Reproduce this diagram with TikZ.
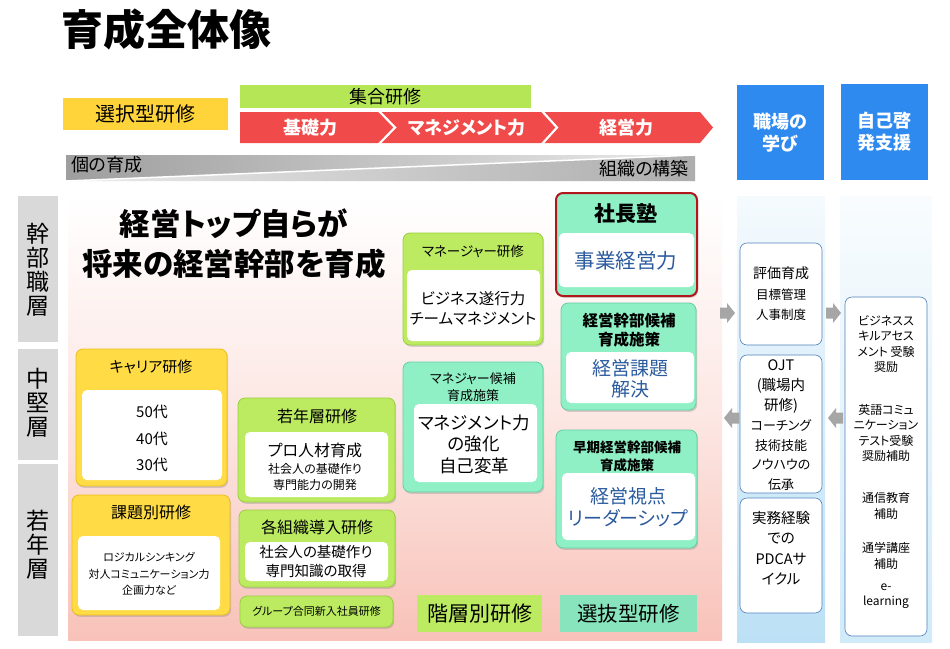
\documentclass[tikz,border=0pt]{standalone}
\usepackage{fontspec}
\setmainfont[RawFeature=+palt]{Noto Sans CJK JP}
\usetikzlibrary{shadows,fit}
\definecolor{selyellow}{HTML}{FFD43B}
\definecolor{barGreen}{HTML}{B5E655}
\definecolor{barRed}{HTML}{F04A4A}
\definecolor{hdrBlue}{HTML}{2F8AF0}
\definecolor{lblGray}{HTML}{D9D9D9}
\definecolor{pinkbg}{HTML}{F8C2B9}
\definecolor{yfill}{HTML}{FFDC45}
\definecolor{ybord}{HTML}{E9BE1E}
\definecolor{gfill}{HTML}{BCEB62}
\definecolor{gbord}{HTML}{98CF3C}
\definecolor{mfill}{HTML}{8FF0C6}
\definecolor{mbord}{HTML}{62CFA2}
\definecolor{redbord}{HTML}{B0161B}
\definecolor{txtBlue}{HTML}{2B5B9E}
\definecolor{boxBlue}{HTML}{4F81BD}
\definecolor{arrowGray}{HTML}{A6A6A6}
\definecolor{colA}{HTML}{BCE0F5}
\definecolor{colB}{HTML}{D2EBF9}
\newcommand\fsz[2]{\fontsize{#1}{#2}\selectfont}
\begin{document}
\begin{tikzpicture}[x=1pt,y=-1pt,
  shp/.style={inner sep=0pt, outer sep=0pt},
  sh/.style={drop shadow={opacity=0.3,shadow xshift=1.2pt,shadow yshift=-1.8pt}},
  ybox/.style={shp,sh,draw=ybord,fill=yfill,line width=0.8pt,rounded corners=7pt},
  gbox/.style={shp,sh,draw=gbord,fill=gfill,line width=0.8pt,rounded corners=7pt},
  mbox/.style={shp,sh,draw=mbord,fill=mfill,line width=0.8pt,rounded corners=7pt},
  wbox/.style={shp,fill=white,rounded corners=5pt},
  bbox/.style={shp,fill=white,draw=boxBlue,line width=0.6pt,rounded corners=7pt},
  txt/.style={inner sep=0pt, align=center},
  garrow/.style={fill=arrowGray}
]
\useasboundingbox (0,0) rectangle (950,648);
\fill[white] (0,0) rectangle (950,648);

% title
\node[txt,anchor=west,font=\bfseries\fsz{42}{46}] (title) at (61,29) {育成全体像};

% top bars
\node[shp,fill=selyellow,fit={(63,98)(228,130)}] (sel) {};
\node[txt,font=\fsz{20}{24}] (selt) at (sel) {選択型研修};
\node[shp,fill=barGreen,fit={(240,85)(531,108)}] (shugo) {};
\node[txt,font=\fsz{18}{22}] (shugot) at (shugo) {集合研修};
\fill[barRed] (240,112) -- (700,112) -- (713,127.5) -- (700,143) -- (240,143) -- cycle;
\draw[white,line width=2.2pt] (379,111) -- (395,127.5) -- (379,144);
\draw[white,line width=2.2pt] (542,111) -- (557,127.5) -- (542,144);
\node[txt,font=\bfseries\fsz{18}{22},text=white] (r1) at (310,127.5) {基礎力};
\node[txt,font=\bfseries\fsz{18}{22},text=white] (r2) at (467,127.5) {マネジメント力};
\node[txt,font=\bfseries\fsz{18}{22},text=white] (r3) at (626,127.5) {経営力};

% gray wedges
\shade[left color=black!38,right color=black!8] (66,155) -- (695,155) -- (66,181) -- cycle;
\shade[left color=black!8,right color=black!32] (695,155) -- (695,181) -- (66,181) -- cycle;
\draw[white,line width=1.5pt] (66,181) -- (695,155);
\node[txt,anchor=west,font=\fsz{18}{22}] (kono) at (71,165) {個の育成};
\node[txt,anchor=east,font=\fsz{18}{22}] (soshiki) at (689,169) {組織の構築};

% blue headers
\node[shp,fill=hdrBlue,fit={(737,85)(824,180)}] (shokuba) {};
\node[txt,font=\bfseries\fsz{18}{22},text=white] (shokubat) at (shokuba) {職場の\\学び};
\node[shp,fill=hdrBlue,fit={(841,84)(928,180)}] (jiko) {};
\node[txt,font=\bfseries\fsz{18}{22},text=white] (jikot) at (jiko) {自己啓\\発支援};

% backgrounds
\shade[top color=white,bottom color=pinkbg,middle color=pinkbg!40] (68,196) rectangle (722,640);
\shade[top color=colA!15,bottom color=colA] (737,196) rectangle (825,642);
\shade[top color=colB!15,bottom color=colB] (840,196) rectangle (932,642);

% left level labels
\node[shp,fill=lblGray,fit={(18,196)(58,342)}] (lv1) {};
\node[txt,font=\fsz{23}{24}] (lv1t) at (38,270) {幹\\部\\職\\層};
\node[shp,fill=lblGray,fit={(18,349)(58,460)}] (lv2) {};
\node[txt,font=\fsz{23}{24}] (lv2t) at (38,403) {中\\堅\\層};
\node[shp,fill=lblGray,fit={(18,464)(58,636)}] (lv3) {};
\node[txt,font=\fsz{23}{24}] (lv3t) at (38,545) {若\\年\\層};

% heading
\node[txt,font=\bfseries\fsz{30.5}{40}] (head) at (234,244) {経営トップ自らが\\将来の経営幹部を育成};

% キャリア研修
\node[ybox,fit={(76,349)(227,486)}] (car) {};
\node[wbox,fit={(82,390)(222,480)}] (carw) {};
\node[txt,font=\fsz{15}{18}] (cart) at (151,367) {キャリア研修};
\node[txt,font=\fsz{15}{18}] (c50) at (152,412) {50代};
\node[txt,font=\fsz{15}{18}] (c40) at (152,439) {40代};
\node[txt,font=\fsz{15}{18}] (c30) at (152,465) {30代};

% 課題別研修
\node[ybox,fit={(72,495)(230,615)}] (kadai) {};
\node[wbox,fit={(78,536)(220,610)}] (kadaiw) {};
\node[txt,font=\fsz{16}{19}] (kadait) at (151,512) {課題別研修};
\node[txt,font=\fsz{11}{16.5}] (kadaib) at (149,574) {ロジカルシンキング\\対人コミュニケーション力\\企画力など};

% 若年層研修
\node[gbox,fit={(238,398)(395,502)}] (jaku) {};
\node[wbox,fit={(245,432)(388,497)}] (jakuw) {};
\node[txt,font=\fsz{16}{19}] (jakut) at (317,416) {若年層研修};
\node[txt,font=\fsz{16}{19}] (jakub1) at (315,450) {プロ人材育成};
\node[txt,font=\fsz{12}{15.5}] (jakub2) at (315,477) {社会人の基礎作り\\専門能力の開発};

% 各組織導入研修
\node[gbox,fit={(239,510)(395,587)}] (kaku) {};
\node[wbox,fit={(245,542)(388,581)}] (kakuw) {};
\node[txt,font=\fsz{16}{19}] (kakut) at (317,527) {各組織導入研修};
\node[txt,font=\fsz{14.5}{19}] (kakub) at (316,562) {社会人の基礎作り\\専門知識の取得};

% グループ合同新入社員研修
\node[gbox,fit={(240,596)(393,627)}] (grp) {};
\node[txt,font=\fsz{11}{13}] (grpt) at (grp) {グループ合同新入社員研修};

% マネージャー研修
\node[gbox,fit={(403,233)(543,345)}] (mgr) {};
\node[wbox,fit={(407,270)(540,341)}] (mgrw) {};
\node[txt,font=\fsz{13.5}{16}] (mgrt) at (473,251) {マネージャー研修};
\node[txt,font=\fsz{15.5}{20}] (mgrb) at (473,308) {ビジネス遂行力\\チームマネジメント};

% マネジャー候補育成施策
\node[mbox,fit={(403,362)(543,492)}] (mgk) {};
\node[wbox,fit={(414,404)(537,482)}] (mgkw) {};
\node[txt,font=\fsz{13}{17}] (mgkt) at (473,387) {マネジャー候補\\育成施策};
\node[txt,font=\fsz{17.5}{21.5}] (mgkb) at (474,444) {マネジメント力\\の強化\\自己変革};

% 社長塾
\node[shp,sh,draw=redbord,fill=mfill,line width=2pt,rounded corners=7pt,fit={(556,193)(697,296)}] (jukun) {};
\node[wbox,fit={(559,233)(694,287)}] (jukuw) {};
\node[txt,font=\bfseries\fsz{21}{24}] (jukut) at (626,214) {社長塾};
\node[txt,font=\fsz{20.5}{24},text=txtBlue] (jukub) at (626,261) {事業経営力};

% 経営幹部候補育成施策
\node[mbox,fit={(561,303)(696,410)}] (kkb) {};
\node[wbox,fit={(566,352)(694,403)}] (kkbw) {};
\node[txt,font=\bfseries\fsz{15.5}{19}] (kkbt) at (629,330) {経営幹部候補\\育成施策};
\node[txt,font=\fsz{19}{21},text=txtBlue] (kkbb) at (630,379) {経営課題\\解決};

% 早期経営幹部候補育成施策
\node[mbox,fit={(556,430)(697,548)}] (soki) {};
\node[wbox,fit={(562,473)(695,540)}] (sokiw) {};
\node[txt,font=\bfseries\fsz{13.5}{18}] (sokit) at (627,456) {早期経営幹部候補\\育成施策};
\node[txt,font=\fsz{19}{22},text=txtBlue] (sokib) at (628,507) {経営視点\\リーダーシップ};

% category labels
\node[shp,fill=gfill,fit={(417,595)(542,632)}] (kaiso) {};
\node[txt,font=\fsz{21}{24}] (kaisot) at (kaiso) {階層別研修};
\node[shp,fill=mfill!95!black,fit={(560,595)(697,632)}] (senbatsu) {};
\node[txt,font=\fsz{20.5}{24}] (senbatsut) at (senbatsu) {選抜型研修};

% right column boxes
\node[bbox,fit={(740,243)(822,345)}] (hyoka) {};
\node[txt,font=\fsz{14}{18}] (hyokat1) at (781,273) {評価育成};
\node[txt,font=\fsz{12.5}{20}] (hyokat2) at (781,305) {目標管理\\人事制度};
\node[bbox,fit={(740,355)(822,493)}] (ojt) {};
\node[txt,font=\fsz{14.5}{20}] (ojtt1) at (781,387) {OJT\\(職場内\\研修)};
\node[txt,font=\fsz{13}{19.5}] (ojtt2) at (781,455) {コーチング\\技術技能\\ノウハウの\\伝承};
\node[bbox,fit={(740,498)(822,613)}] (jitsumu) {};
\node[txt,font=\fsz{14.5}{20.5}] (jitsumut) at (781,548) {実務経験\\での\\PDCAサ\\イクル};
\node[bbox,fit={(845,297)(927,636)}] (jikob) {};
\node[txt,font=\fsz{12}{15.3}] (jb1) at (886,344) {ビジネスス\\キルアセス\\メント 受験\\奨励};
\node[txt,font=\fsz{12}{15.3}] (jb2) at (886,433) {英語コミュ\\ニケーション\\テスト受験\\奨励補助};
\node[txt,font=\fsz{12}{15.3}] (jb3) at (886,506) {通信教育\\補助};
\node[txt,font=\fsz{12}{15.3}] (jb4) at (886,556) {通学講座\\補助};
\node[txt,font=\fsz{12}{15.3}] (jb5) at (886,596) {e-\\learning};

% gray block arrows (drawn from named anchor points)
\coordinate (a1s) at (720,313);
\coordinate (a2s) at (826,313);
\coordinate (a3s) at (739,418);
\coordinate (a4s) at (843,418);
\fill[garrow] (a1s) ++(0,-5.5) -- ++(7,0) -- ++(0,-4.5) -- ++(8,10) -- ++(-8,10) -- ++(0,-4.5) -- ++(-7,0) -- cycle;
\fill[garrow] (a2s) ++(0,-5.5) -- ++(7,0) -- ++(0,-4.5) -- ++(8,10) -- ++(-8,10) -- ++(0,-4.5) -- ++(-7,0) -- cycle;
\fill[garrow] (a3s) ++(0,-5.5) -- ++(-7,0) -- ++(0,-4.5) -- ++(-8,10) -- ++(8,10) -- ++(0,-4.5) -- ++(7,0) -- cycle;
\fill[garrow] (a4s) ++(0,-5.5) -- ++(-7,0) -- ++(0,-4.5) -- ++(-8,10) -- ++(8,10) -- ++(0,-4.5) -- ++(7,0) -- cycle;
\end{tikzpicture}
\end{document}
